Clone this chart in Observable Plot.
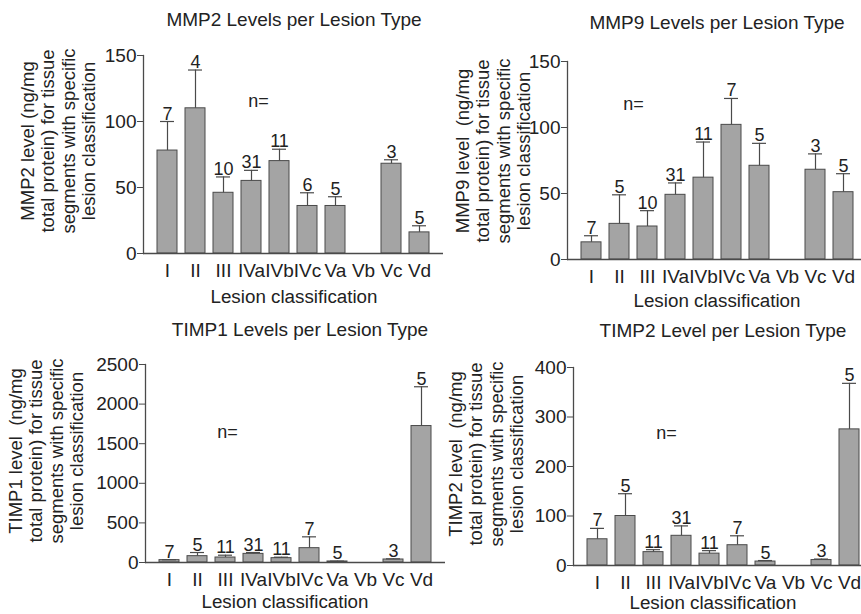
<!DOCTYPE html>
<html>
<head>
<meta charset="utf-8">
<script src="https://cdn.jsdelivr.net/npm/d3@7"></script>
<script src="https://cdn.jsdelivr.net/npm/@observablehq/plot@0.6"></script>
<style>
  html, body { margin: 0; padding: 0; background: #fff; overflow: hidden; }
  #root { position: relative; width: 861px; height: 614px; overflow: hidden;
          font-family: "Liberation Sans", Arial, sans-serif; color: #222; }
  .title { position: absolute; font-size: 19px; white-space: nowrap; transform: translate(-50%, -50%); }
  .xlab { position: absolute; font-size: 18.8px; white-space: nowrap; transform: translate(-50%, -50%); }
  .ylab { position: absolute; font-size: 18.5px; line-height: 20.4px; white-space: nowrap; text-align: center;
          transform: translate(-50%, -50%) rotate(-90deg); }
</style>
</head>
<body>
<div id="root"></div>
<script>
// ---- data ----
const categories = ["I", "II", "III", "IVa", "IVb", "IVc", "Va", "Vb", "Vc", "Vd"];

const mmp2Mean = [78, 110, 46, 55, 70, 36, 36, null, 68, 16];
const mmp2Sem  = [22, 29, 12, 8, 9, 10, 7, null, 3, 5];
const mmp2N    = [7, 4, 10, 31, 11, 6, 5, null, 3, 5];

const mmp9Mean = [13, 27, 25, 49, 62, 102, 71, null, 68, 51];
const mmp9Sem  = [5, 22, 12, 9, 27, 20, 17, null, 12, 14];
const mmp9N    = [7, 5, 10, 31, 11, 7, 5, null, 3, 5];

const timp1Mean = [30, 80, 63, 109, 55, 181, 13, null, 38, 1723];
const timp1Sem  = [5, 46, 29, 17, 12, 143, 4, null, 8, 496];
const timp1N    = [7, 5, 11, 31, 11, 7, 5, null, 3, 5];

const timp2Mean = [53, 100, 27, 60, 24, 41, 8, null, 11, 275];
const timp2Sem  = [22, 45, 5, 20, 6, 19, 2, null, 2, 93];
const timp2N    = [7, 5, 11, 31, 11, 7, 5, null, 3, 5];

const mmpTicks   = [0, 50, 100, 150];
const timp1Ticks = [0, 500, 1000, 1500, 2000, 2500];
const timp2Ticks = [0, 100, 200, 300, 400];

// ---- layout ----
const FW = 300, FH = 198, ML = 64, MR = 6, MT = 34, MB = 30;
const root = document.getElementById("root");
const ink = "#222", line = "#4a4a4a";

function panel({mean, sem, n, ticks, nDx, nDy, left, top}) {
  const data = categories.map((c, i) => ({
    cat: c, mean: mean[i], hi: mean[i] == null ? null : mean[i] + sem[i], n: n[i]
  })).filter(d => d.mean != null);
  const chart = Plot.plot({
    width: ML + FW + MR, height: MT + FH + MB,
    marginLeft: ML, marginRight: MR, marginTop: MT, marginBottom: MB,
    style: {fontFamily: "'Liberation Sans', Arial, sans-serif", fontSize: "18px", color: ink, background: "transparent", overflow: "visible"},
    x: {domain: categories, paddingInner: 0.3, paddingOuter: 0.4, label: null, axis: null},
    y: {domain: [ticks[0], ticks[ticks.length - 1]], label: null, axis: null},
    marks: [
      Plot.barY(data, {x: "cat", y: "mean", fill: "#a4a4a4", stroke: line, strokeWidth: 1}),
      Plot.ruleX(data, {x: "cat", y1: "mean", y2: "hi", stroke: line, strokeWidth: 1.2}),
      Plot.tickY(data, {x: "cat", y: "hi", stroke: line, strokeWidth: 1.2, insetLeft: 3, insetRight: 3}),
      Plot.text(data, {x: "cat", y: "hi", text: d => String(d.n), lineAnchor: "bottom", dy: -2, fontSize: 18, fill: ink}),
      Plot.text(["n="], {frameAnchor: "top-left", dx: nDx, dy: nDy, textAnchor: "middle", fontSize: 18, fill: ink}),
      Plot.ruleY([0], {stroke: line, strokeWidth: 1.3}),
      Plot.frame({anchor: "left", stroke: line, strokeWidth: 1.3}),
      Plot.axisY({ticks, tickSize: 6, tickPadding: 1, tickFormat: d => String(d), stroke: line, fill: ink, fontSize: 19, label: null}),
      Plot.axisX({tickSize: 0, tickPadding: 10, fill: ink, fontSize: 19, label: null})
    ]
  });
  chart.style.position = "absolute";
  chart.style.left = (left - ML) + "px";
  chart.style.top = (top - MT) + "px";
  root.appendChild(chart);
}

function label(cls, text, x, y) {
  const d = document.createElement("div");
  d.className = cls;
  d.style.left = x + "px";
  d.style.top = y + "px";
  d.innerHTML = text;
  root.appendChild(d);
}

panel({mean: mmp2Mean, sem: mmp2Sem, n: mmp2N, ticks: mmpTicks, nDx: 115, nDy: 39, left: 143, top: 55});
panel({mean: mmp9Mean, sem: mmp9Sem, n: mmp9N, ticks: mmpTicks, nDx: 66, nDy: 36, left: 567, top: 61});
panel({mean: timp1Mean, sem: timp1Sem, n: timp1N, ticks: timp1Ticks, nDx: 82, nDy: 61, left: 145, top: 364});
panel({mean: timp2Mean, sem: timp2Sem, n: timp2N, ticks: timp2Ticks, nDx: 93, nDy: 59, left: 573, top: 367});

label("title", "MMP2 Levels per Lesion Type", 294, 20);
label("title", "MMP9 Levels per Lesion Type", 717, 23);
label("title", "TIMP1 Levels per Lesion Type", 300, 330);
label("title", "TIMP2 Level per Lesion Type", 723, 331);

label("xlab", "Lesion classification", 294, 297);
label("xlab", "Lesion classification", 717, 301);
label("xlab", "Lesion classification", 285, 602);
label("xlab", "Lesion classification", 713, 603);

label("ylab", "MMP2 level (ng/mg<br>total protein) for tissue<br>segments with specific<br>lesion classification", 59, 141);
label("ylab", "MMP9 level&nbsp; (ng/mg<br>total protein) for tissue<br>segments with specific<br>lesion classification", 494, 151);
label("ylab", "TIMP1 level&nbsp; (ng/mg<br>total protein) for tissue<br>segments with specific<br>lesion classification", 47, 451);
label("ylab", "TIMP2 level&nbsp; (ng/mg<br>total protein) for tissue<br>segments with specific<br>lesion classification", 487, 454);
</script>
</body>
</html>
